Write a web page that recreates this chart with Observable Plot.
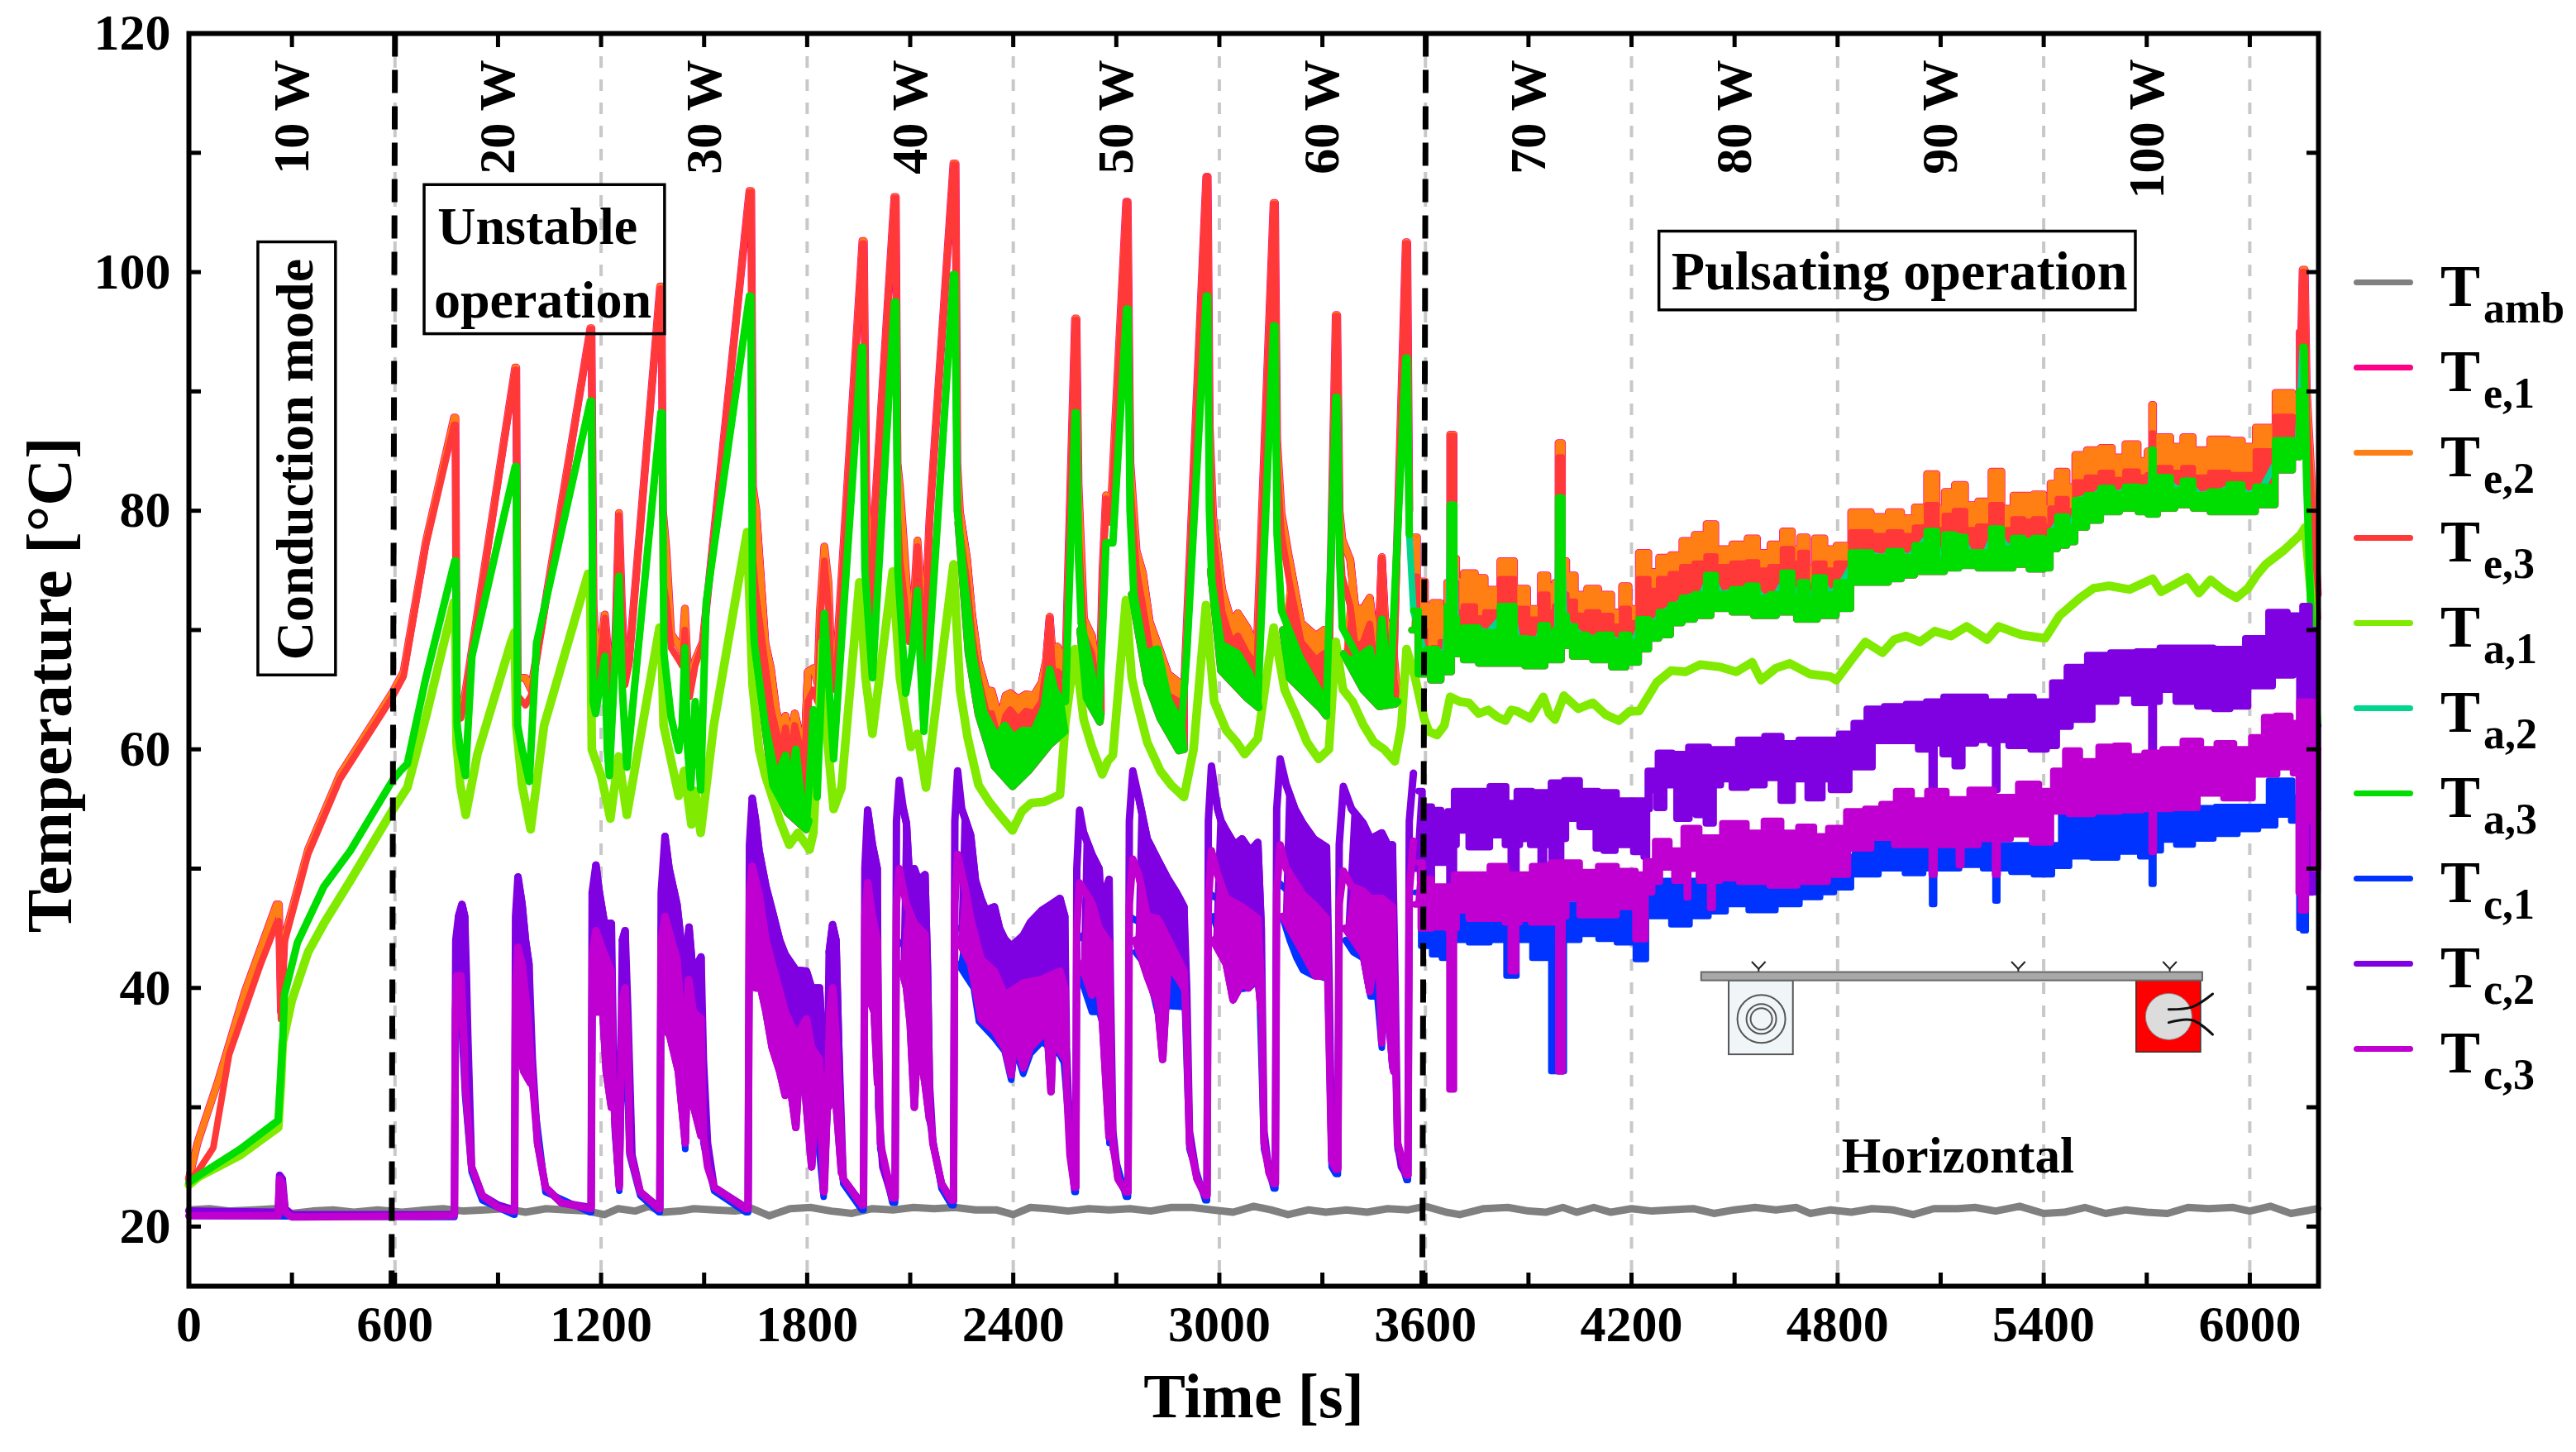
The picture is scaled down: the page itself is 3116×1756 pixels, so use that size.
<!DOCTYPE html>
<html><head><meta charset="utf-8">
<script src="https://cdn.jsdelivr.net/npm/d3@7"></script>
<script src="https://cdn.jsdelivr.net/npm/@observablehq/plot@0.6"></script>
<style>
html,body{margin:0;padding:0;background:#fff}
#wrap{position:relative;width:3116px;height:1756px;overflow:hidden;font-family:"Liberation Serif",serif;font-weight:bold;color:#000}
.sw{position:absolute;left:2847px;width:72px;height:7px;border-radius:4px}
.lb{position:absolute;left:2952px;font-size:72px;line-height:70px;white-space:nowrap}
.lb sub{font-size:52px;vertical-align:-20px;line-height:0;margin-left:4px}
</style></head><body><div id="wrap"><div id="chart"></div></div>
<script>
// ---------- readings from the picture: [time s, temperature °C] ----------
const tamb=[[0,21.4],[60,21.5],[120,21.3],[190,21.4],[250,21.5],[300,21.1],[360,21.3],[420,21.4],[480,21.2],[550,21.4],[620,21.2],[690,21.4],[740,21.5],[800,21.3],[860,21.4],[920,21.5],[980,21.2],[1040,21.5],[1100,21.4],[1160,21.3],[1210,21],[1250,21.5],[1300,21.3],[1340,21.7],[1380,21.2],[1430,21.3],[1470,21.5],[1530,21.4],[1590,21.3],[1640,21.5],[1690,20.9],[1750,21.5],[1810,21.6],[1870,21.3],[1930,21.1],[1990,21.5],[2050,21.4],[2110,21.6],[2170,21.5],[2230,21.6],[2290,21.4],[2350,21.4],[2400,21],[2450,21.6],[2500,21.5],[2560,21.3],[2620,21.5],[2680,21.4],[2740,21.5],[2800,21.3],[2860,21.6],[2920,21.6],[2980,21.4],[3040,21.2],[3100,21.7],[3150,21.4],[3200,21],[3260,21.4],[3310,21.2],[3370,21.4],[3430,21.2],[3490,21.5],[3550,21.4],[3600,21.7],[3660,21.2],[3700,21],[3770,21.5],[3840,21.6],[3900,21.3],[3950,21.2],[4000,21.6],[4040,21.2],[4090,21.6],[4140,21.2],[4200,21.5],[4260,21.3],[4310,21.4],[4380,21.5],[4440,21.1],[4500,21.4],[4560,21.6],[4620,21.4],[4680,21.6],[4720,21.1],[4780,21.4],[4840,21.2],[4900,21.5],[4960,21.4],[5020,21],[5080,21.5],[5150,21.5],[5200,21.6],[5260,21.3],[5330,21.7],[5400,21.1],[5460,21.2],[5520,21.6],[5580,21.1],[5640,21.4],[5700,21.2],[5760,21.1],[5820,21.6],[5880,21.5],[5950,21.6],[6000,21.3],[6060,21.7],[6120,21.1],[6198,21.5]];

const te2Top=[[0,24],[25,27],[86,32.3],[163,39.7],[255,47],[262,47],[268,38],[278,44.2],[347,51.6],[440,57.9],[593,64.8],[625,66.5],[690,77.4],[772,87.8],[776,87.8],[780,63],[792,63.6],[803,64.4],[950,92],[953,92],[957,66],[980,66],[996,65],[1169,95.3],[1172,95.3],[1178,72],[1190,66],[1200,69],[1211,71.3],[1222,67.5],[1232,63.5],[1243,70.3],[1252,79.8],[1260,72.5],[1270,66],[1281,67.3],[1372,98.8],[1376,98.8],[1380,80],[1390,76.8],[1404,69.7],[1426,68.7],[1436,68.2],[1444,71.8],[1452,67],[1458,65],[1474,67.5],[1496,69],[1632,106.8],[1637,106.8],[1642,82],[1651,80.2],[1678,68.9],[1694,66.8],[1710,63.2],[1725,61.8],[1737,62.8],[1748,60.5],[1764,63],[1780,61],[1791,59],[1802,66.5],[1818,66.8],[1830,65.5],[1837,71.5],[1850,77],[1862,74],[1870,67.5],[1882,66],[1961,102.6],[1965,102.6],[1972,82],[1979,77],[1988,70],[1995,79.2],[2054,106.3],[2058,106.3],[2063,84],[2070,82],[2097,70.9],[2106,70.5],[2114,74],[2121,77.5],[2130,74],[2140,68.9],[2156,79.2],[2226,109.1],[2232,109.1],[2237,84],[2245,79.8],[2265,76],[2280,71.3],[2298,67.4],[2322,64.9],[2337,64.9],[2360,62.4],[2378,64.5],[2391,64.7],[2414,64.2],[2437,64.6],[2460,64.5],[2483,65.6],[2496,67.5],[2506,71.1],[2515,67.5],[2529,68.6],[2552,67],[2580,96.1],[2584,96.1],[2590,82.2],[2606,70.9],[2629,69.5],[2644,66.3],[2654,68],[2660,75],[2670,81.3],[2685,80.5],[2729,105.9],[2733,105.9],[2741,84],[2759,76.6],[2777,74.8],[2797,70.7],[2823,68.6],[2851,66.3],[2882,65.6],[2897,65],[2962,108],[2966,108],[2972,87],[2982,79.4],[3008,73.4],[3035,70.7],[3054,71.4],[3081,70.2],[3109,68.5],[3158,105.8],[3162,105.8],[3168,86],[3181,79.8],[3204,75.9],[3238,70.6],[3281,69.5],[3304,70],[3319,67.5],[3339,96.4],[3343,96.4],[3350,80],[3358,77.6],[3381,75.9],[3396,71.8],[3419,71.8],[3438,72.7],[3453,69],[3465,70],[3473,76.1],[3482,71],[3493,69.8],[3508,68],[3543,102.5],[3547,102.5],[3553,80],[3565,77.8],[3588,74.1],[3611,72],[3630,72.3],[3657,71.8],[3668,74],[3674,86.4],[3680,86.4],[3686,76],[3695,74.1],[3726,74.8],[3764,74.4],[3783,73.4],[3851,75.8],[3867,73.5],[3927,71.8],[3943,74.6],[3969,73.7],[3984,74],[3989,85.7],[3994,85.7],[4003,75.8],[4019,74.6],[4053,73],[4087,73.5],[4121,73],[4163,71.5],[4180,73.7],[4205,71.8],[4236,76.5],[4264,74.9],[4295,76.1],[4332,76.3],[4362,77.5],[4404,78],[4431,78.9],[4459,76.8],[4526,77.2],[4548,77.7],[4585,76.5],[4622,77.2],[4658,78.3],[4678,76.8],[4703,77.8],[4720,75.2],[4746,77.7],[4779,76.8],[4813,77.1],[4864,79.9],[4931,79.5],[4965,79.9],[5007,79.4],[5041,80.3],[5078,83.1],[5100,80.2],[5122,81.6],[5159,82.2],[5185,80.5],[5232,80.8],[5262,83.3],[5294,80.2],[5328,81.3],[5354,81.3],[5387,81.4],[5413,80.2],[5425,82.3],[5455,83.3],[5480,82],[5502,84.7],[5548,85.1],[5583,85.3],[5616,84.5],[5658,85.6],[5691,84.2],[5712,85],[5717,88.9],[5722,85],[5746,86.2],[5793,85.4],[5818,86.2],[5852,85.1],[5916,86],[5961,85.9],[5995,85.4],[6038,87],[6110,89.9],[6139,89.6],[6150,95],[6154,100.2],[6160,100.2],[6166,90],[6183,81],[6198,73]];

const te1=te2Top; // Te,1 lies on Te,2 within the line width; only its fringe shows

const te3Top=[[0,23.8],[30,24.8],[71,26.6],[117,34.4],[209,42],[255,45.4],[262,45.6],[268,37.4],[278,43.8],[347,51.2],[440,57.5],[593,64.4],[625,66.1],[690,77.1],[772,87.2],[776,87.2],[780,62.6],[792,62.6],[803,64],[950,91.8],[953,91.8],[957,64.5],[980,63.7],[996,64.5],[1169,95.2],[1172,95.2],[1178,68],[1190,65],[1200,68],[1211,71],[1222,67],[1232,63],[1243,70],[1252,79.6],[1260,72],[1270,65.4],[1281,67],[1372,98.6],[1376,98.6],[1380,74],[1390,72.5],[1404,68.5],[1426,67.5],[1436,67],[1444,70],[1452,66],[1458,64.4],[1474,67],[1496,68.9],[1632,106.7],[1637,106.7],[1642,76],[1651,73],[1678,67],[1694,63.5],[1710,61.5],[1725,60],[1737,61.8],[1748,59],[1764,62],[1780,60],[1791,58.4],[1802,64],[1818,65],[1830,64],[1837,70],[1850,75.8],[1862,72],[1870,66],[1882,65],[1961,102.4],[1965,102.4],[1972,78],[1979,74],[1988,68],[1995,79],[2054,106.2],[2058,106.2],[2063,80],[2070,76],[2097,69],[2106,69],[2114,73],[2121,77],[2130,72],[2140,66],[2156,79],[2226,109],[2232,109],[2237,82],[2245,78],[2265,74],[2280,69.5],[2298,66],[2322,63],[2337,63],[2360,60.5],[2378,62.8],[2391,63.3],[2414,62.5],[2437,63.2],[2460,63],[2483,64],[2496,67],[2506,71],[2515,66],[2529,66.5],[2552,66],[2580,96],[2584,96],[2590,78],[2606,69.5],[2629,68],[2644,65],[2654,67],[2660,74],[2670,81],[2685,79],[2729,105.9],[2733,105.9],[2741,82],[2759,75],[2777,72],[2797,68.5],[2823,67],[2851,64.5],[2882,64],[2897,64],[2962,108],[2966,108],[2972,85],[2982,78],[3008,71.5],[3035,69],[3054,69.5],[3081,68],[3109,67],[3158,105.7],[3162,105.7],[3168,84],[3181,78],[3204,74],[3238,69],[3281,67.5],[3304,68],[3319,66.5],[3339,96.3],[3343,96.3],[3350,78],[3358,74.5],[3381,72],[3396,68.5],[3419,69],[3438,70.5],[3453,66.5],[3465,68],[3473,76],[3482,70],[3493,66],[3508,66],[3543,102.4],[3547,102.4],[3553,78],[3565,74.5],[3588,70],[3611,68],[3630,68.5],[3657,69],[3668,72],[3674,86.3],[3680,86.3],[3686,74],[3695,71.5],[3726,72],[3764,71],[3783,71.5],[3851,74.3],[3867,71.8],[3927,70.9],[3943,73],[3969,71.5],[3984,72],[3989,84.5],[3994,84.5],[4003,73],[4019,72.4],[4053,71.2],[4087,71.5],[4121,71.2],[4163,70.3],[4180,71.8],[4205,70.6],[4236,74.3],[4264,73.3],[4295,74.3],[4332,74.7],[4362,75.3],[4404,75.6],[4431,76.2],[4459,75.3],[4526,75.6],[4548,75.7],[4585,75],[4622,75.3],[4658,76.8],[4678,75.6],[4703,76.5],[4720,73.7],[4746,75.6],[4779,75],[4813,75.6],[4864,78.2],[4931,77.9],[4965,78.2],[5007,77.9],[5041,78.6],[5078,80.5],[5100,78.4],[5122,79.6],[5159,80],[5185,78.4],[5232,78.7],[5262,80.5],[5294,78.4],[5328,79.3],[5354,79.1],[5387,79.3],[5413,78.7],[5425,80.2],[5455,81],[5480,80],[5502,82.4],[5548,82.8],[5583,83.2],[5616,82.6],[5658,83.3],[5691,82.8],[5712,83],[5717,86.5],[5722,83],[5746,83.6],[5793,83.2],[5818,83.6],[5852,82.8],[5916,83.2],[5961,83],[5995,83],[6038,85],[6110,87.9],[6139,87.8],[6150,95],[6154,100],[6160,100],[6166,88],[6183,79.6],[6198,71]];

const ta1=[[0,23.5],[30,24.2],[150,26],[260,28.3],[268,32],[273,35.4],[300,39],[347,43],[393,45.4],[470,49],[593,54.9],[636,56.8],[690,62.7],[771,72.3],[775,72.3],[779,60.6],[790,57],[806,54.5],[840,59.6],[937,68.9],[948,69.8],[953,62],[970,57],[995,53.3],[1034,62],[1162,74.7],[1168,74.7],[1173,60],[1200,57.8],[1227,54.2],[1251,59.4],[1275,54.5],[1370,70.2],[1375,70],[1382,62],[1426,56.1],[1442,58.2],[1463,53.7],[1474,56.5],[1490,53],[1528,62],[1625,78.2],[1641,65.4],[1660,60],[1678,57.8],[1721,54],[1748,52],[1773,53],[1807,51.6],[1818,53],[1834,62],[1845,69],[1855,62],[1877,55],[1900,56.8],[1952,74],[1970,66],[1990,61.3],[2049,74.9],[2070,66],[2102,60.2],[2121,61.3],[2146,56.8],[2226,75.5],[2245,65],[2267,61],[2299,57],[2330,55.6],[2360,54.5],[2398,53.2],[2425,54.8],[2452,55.5],[2490,55.6],[2536,56.2],[2552,62.3],[2580,68.4],[2605,62.5],[2629,60.2],[2659,57.9],[2675,59],[2690,59.5],[2728,72.5],[2745,66],[2760,64],[2790,60.6],[2828,58.2],[2860,57],[2897,56],[2925,60],[2961,72.1],[2985,64],[3020,61.6],[3050,60.6],[3074,59.6],[3112,60.9],[3158,70.2],[3190,65],[3227,62.6],[3255,60.6],[3289,59.2],[3319,60],[3339,69],[3360,65],[3388,64],[3420,62],[3450,60.6],[3480,60],[3511,59],[3530,62],[3545,68.4],[3570,66],[3596,62.6],[3610,61.5],[3634,61.2],[3655,62],[3672,64.4],[3700,64],[3726,63.9],[3755,63],[3783,63.3],[3810,62.7],[3833,62.4],[3850,63.3],[3867,63.2],[3905,62.6],[3943,64.4],[3960,63],[3977,62.5],[4003,64.5],[4045,63.4],[4087,63.9],[4125,62.9],[4163,62.4],[4195,63.2],[4222,63.2],[4250,64.5],[4273,65.6],[4315,66.6],[4357,66.5],[4400,67.1],[4459,66.9],[4505,66.5],[4551,67.3],[4577,65.8],[4620,66.8],[4661,67.2],[4720,66.3],[4779,66.1],[4796,65.8],[4840,67.5],[4881,69],[4931,68.1],[4965,69.2],[4999,69.5],[5040,69],[5083,69.9],[5130,69.5],[5176,70.3],[5235,69.2],[5269,70.3],[5335,69.6],[5404,69.3],[5446,71.2],[5506,72.7],[5545,73.5],[5590,73.7],[5650,73.4],[5717,74.3],[5742,73.2],[5780,73.8],[5818,74.4],[5852,73.1],[5886,74.2],[5925,73.3],[5961,72.7],[5995,73.5],[6020,74.6],[6046,75.5],[6100,76.7],[6148,78],[6161,78.6],[6178,73],[6190,67]];

const ta3Top=[[0,23.7],[30,24.3],[150,26.5],[260,28.9],[268,33],[273,35.4],[278,39.4],[316,43.8],[393,48.5],[470,51.5],[593,57.4],[616,58.2],[636,58.8],[690,66],[774,75.8],[777,75.8],[781,62],[790,60],[805,57.8],[824,67.8],[950,83.7],[953,83.7],[957,62],[970,60],[991,57.3],[1012,68.9],[1169,89.2],[1172,89.2],[1177,64],[1184,63],[1195,65],[1211,67.8],[1218,60],[1224,57.8],[1238,66],[1252,74.5],[1262,65],[1275,58.5],[1374,88.2],[1378,88.2],[1383,68],[1404,62.7],[1426,59.9],[1436,62],[1444,68.5],[1452,60],[1461,56.8],[1474,64],[1490,56.6],[1506,72.3],[1632,98],[1636,98],[1641,72],[1646,68.9],[1678,62],[1710,57.5],[1737,59.5],[1748,56],[1767,60],[1782,56],[1797,53.3],[1808,58],[1818,63.3],[1829,56],[1840,64],[1850,71.4],[1862,66],[1877,59.2],[1888,64],[1958,93.7],[1962,93.7],[1968,75],[1990,66],[2054,97.5],[2058,97.5],[2064,75],[2087,64.7],[2105,68],[2121,73.3],[2130,67],[2140,61.5],[2226,99.8],[2230,99.8],[2237,80],[2260,73.4],[2283,67.7],[2314,63.1],[2352,61],[2375,62],[2400,61],[2429,61.6],[2460,61.5],[2490,63.5],[2506,66.7],[2520,65],[2536,64.2],[2552,64],[2580,88.2],[2584,88.2],[2590,76],[2598,70.6],[2629,66.3],[2649,62.8],[2660,70],[2670,77.3],[2690,77.3],[2730,96.9],[2734,96.9],[2740,80],[2751,73],[2782,68],[2820,68.4],[2851,64.2],[2890,62],[2905,68],[2962,98],[2966,98],[2971,80],[2978,74],[3005,68.8],[3054,68],[3089,66.3],[3112,64],[3158,95.5],[3162,95.5],[3168,78],[3181,71.6],[3235,67.7],[3312,63.8],[3339,89.5],[3343,89.5],[3350,76],[3358,70.2],[3404,67.7],[3438,68.4],[3458,65],[3473,70.9],[3496,64.2],[3543,92.8],[3547,92.8],[3553,78],[3565,71.6],[3596,68.2],[3611,68.4],[3657,68],[3668,72],[3674,80.5],[3680,80.5],[3688,71],[3695,69.8],[3726,70.2],[3783,69.8],[3851,72],[3867,69.3],[3927,69.2],[3943,70.4],[3969,69.3],[3984,70],[3989,81.1],[3994,81.1],[4003,71.2],[4019,70.3],[4053,69.6],[4087,69.3],[4121,69.6],[4163,69],[4180,69.6],[4205,69],[4236,70.9],[4264,70.6],[4295,71.5],[4332,72.1],[4362,72.7],[4404,73],[4431,74.6],[4459,73],[4526,73.4],[4548,73.7],[4585,72.7],[4622,73],[4658,74.8],[4678,72.7],[4703,74],[4720,72.4],[4746,74.4],[4779,73],[4813,74],[4864,76.5],[4931,76.1],[4965,76.6],[5007,76.1],[5041,77.1],[5078,78.3],[5100,75.8],[5122,78],[5159,77.8],[5185,76.5],[5232,76.5],[5262,78.5],[5294,76.8],[5328,77.7],[5354,77.4],[5387,77.7],[5413,76.5],[5425,78.3],[5455,79.5],[5480,78.6],[5502,80.9],[5548,81.3],[5583,81.9],[5616,81.4],[5658,82],[5691,81.9],[5712,82],[5717,85.1],[5722,82],[5746,82.8],[5793,81.7],[5818,82.5],[5852,81.3],[5916,81.6],[5961,82.2],[5995,81.3],[6038,82],[6110,85.9],[6139,85.1],[6148,90],[6154,93.7],[6158,93.7],[6165,83],[6175,74],[6183,68],[6198,62]];

const ta2=ta3Top; // Ta,2 is entirely covered by Ta,3 in the picture

// lower edges of the thick noisy parts of the hot traces
const ta3Low=[
 [[1650,68],[1700,57],[1743,54.7],[1797,53.3],[1805,54]],
 [[2240,79],[2270,68],[2299,62.9],[2345,58.6],[2398,56.9],[2444,58.2],[2506,60.4],[2550,61.5]],
 [[2595,70],[2613,64.3],[2652,62.3],[2655,63]],
 [[2745,73],[2790,65.6],[2828,62.6],[2882,59.9],[2897,60]],
 [[2975,75],[3005,66.6],[3081,64.3],[3115,63.5]],
 [[3185,70],[3204,66],[3296,63.4],[3312,62.8]],
 [[3362,68],[3419,65],[3465,63.6],[3511,63.8],[3520,64]],
 [[3560,70],[3596,66.3],[3634,65.8],[3657,66.5],[3695,68],[3726,67.5],[3783,67.2],[3851,67.2],[3927,67],[3969,67.5],[3989,67.5],[4003,68.7],[4053,67.8],[4121,67.5],[4163,66.9],[4205,67.3],[4236,68.4],[4264,69.3],[4295,69.6],[4332,70.6],[4362,70.9],[4404,71.2],[4459,71.8],[4526,71.5],[4585,71.2],[4658,71.5],[4703,70.9],[4779,71.2],[4813,71.8],[4864,74],[4931,74],[4965,74.3],[5007,74.6],[5041,74.9],[5100,74.9],[5122,75.2],[5185,75.4],[5232,75.2],[5294,75.2],[5328,75.5],[5387,75.1],[5413,75.2],[5425,76.8],[5455,77.1],[5480,77.4],[5502,78.6],[5548,79.2],[5583,79.9],[5658,80.2],[5691,79.9],[5717,79.7],[5746,80.2],[5818,80.5],[5852,80.2],[5916,79.9],[5995,79.9],[6038,80.5],[6110,83.4],[6139,84.5],[6150,88]]
];

const tc2Top=[[0,21.3],[260,21.2],[264,24.3],[272,24],[280,21.5],[300,21],[600,21],[770,21],[773,21],[777,44],[785,46],[795,47],[803,46],[808,41],[812,36],[823,25],[854,22.6],[900,21.8],[945,21.4],[948,21.4],[951,46],[958,49.3],[970,47],[980,44],[990,42],[1000,34],[1015,27],[1038,23.3],[1084,22],[1168,21.6],[1171,21.6],[1174,48],[1185,50.3],[1195,48],[1210,45.4],[1230,45.4],[1234,38],[1240,29],[1253,23.5],[1256,30],[1262,44],[1270,44.8],[1278,38],[1290,26],[1314,22.9],[1368,21.6],[1371,21.6],[1375,48],[1386,52.7],[1398,50],[1421,47],[1440,42],[1450,43],[1456,45.1],[1468,41],[1480,42],[1491,42.6],[1498,34],[1510,27],[1529,23.3],[1621,21.6],[1628,21.6],[1632,52],[1640,55.9],[1650,54],[1660,51.5],[1680,48.5],[1698,46.5],[1720,44],[1736,42.8],[1767,41.5],[1798,41.4],[1813,40],[1836,40],[1845,35],[1850,24],[1858,30],[1864,43],[1874,45.3],[1884,44],[1892,35],[1905,24],[1959,21.9],[1964,21.9],[1968,50],[1976,54.9],[1990,52],[2004,50],[2008,30],[2020,25],[2048,22.4],[2056,22.4],[2060,54],[2068,57.4],[2080,55],[2089,53.8],[2100,48],[2112,50],[2124,49],[2143,49.5],[2150,42],[2156,32],[2166,27],[2191,23.6],[2220,22.2],[2226,22.2],[2230,54],[2238,58.2],[2250,55],[2262,54],[2276,52.8],[2290,49],[2306,47.5],[2320,46.5],[2345,46.8],[2360,45],[2375,44.1],[2395,43.5],[2429,44.4],[2450,45.5],[2483,46.5],[2510,47],[2536,47.5],[2550,46],[2555,35],[2565,27],[2578,23.3],[2582,23.3],[2585,50],[2593,54.9],[2605,53],[2629,51.2],[2650,50],[2655,47],[2679,49.1],[2683,40],[2690,28],[2705,24],[2728,22.9],[2734,22.9],[2738,54],[2748,58.2],[2765,56],[2790,52.5],[2820,50.8],[2851,49.1],[2875,48],[2897,46.8],[2905,40],[2913,28],[2935,24],[2959,22.6],[2964,22.6],[2968,54],[2977,58.6],[2995,55],[3005,54],[3020,53.2],[3045,52],[3066,52.5],[3090,51.5],[3112,52.2],[3122,45],[3130,28],[3145,24.5],[3158,23.6],[3163,23.6],[3167,55],[3177,59.2],[3195,57],[3220,55],[3243,53.8],[3275,52.5],[3312,51.8],[3320,40],[3327,26],[3339,25],[3345,25],[3349,52],[3361,56.9],[3385,55],[3419,53.8],[3440,52.5],[3473,53],[3490,52],[3504,52],[3512,40],[3519,27],[3530,25],[3545,24.3],[3549,24.3],[3553,54],[3565,58],[3580,56.5],[3603,55.2],[3634,54.9],[3657,54.5],[3672,54.8],[3695,56.5],[3757,56.5],[3818,56.9],[3852,55.5],[3880,56.5],[3941,56.4],[3990,57.2],[4018,57.4],[4080,56.5],[4126,56.4],[4187,55.7],[4239,55.7],[4256,58.2],[4298,59.7],[4340,59.6],[4391,60.2],[4459,60],[4563,60.8],[4611,61.1],[4661,60.5],[4712,60.8],[4779,60.8],[4830,61.3],[4864,62.2],[4906,63.4],[4965,63.6],[5033,63.8],[5083,64],[5134,64.4],[5193,64.4],[5269,64],[5337,64.4],[5404,64],[5446,65.6],[5489,66.9],[5565,67.9],[5624,68.1],[5717,68.2],[5759,68.5],[5843,68.5],[5945,68.4],[6029,69.3],[6080,71.5],[6139,71.2],[6168,72],[6180,70],[6198,62]];

const tc3Top=[[0,20.9],[260,20.9],[264,24],[272,23.5],[280,21.2],[300,20.8],[770,20.9],[773,21],[776,38],[780,41],[792,41],[800,36],[804,32],[823,25],[854,22.6],[900,21.6],[945,21.3],[948,21.3],[951,40],[958,43.4],[970,42],[985,38],[1000,32.3],[1015,27],[1038,23.3],[1084,22],[1168,21.5],[1171,21.5],[1175,43],[1185,44.8],[1207,43],[1230,41.4],[1234,33],[1240,29],[1253,23.3],[1256,30],[1262,39],[1270,40],[1278,35],[1283,26.3],[1314,22.9],[1368,21.5],[1371,21.5],[1375,44],[1386,46],[1405,44],[1421,42.4],[1432,38],[1445,27],[1450,38],[1455,40.7],[1468,38],[1491,37.4],[1498,27.6],[1510,25],[1529,23.3],[1621,21.5],[1628,21.5],[1632,48],[1640,50.2],[1660,47.8],[1680,44],[1698,42],[1736,38],[1767,36],[1780,36.5],[1798,37.4],[1813,35],[1836,34],[1845,28],[1850,23],[1858,30],[1866,38],[1874,40],[1884,36],[1905,24],[1959,21.8],[1964,21.8],[1968,46],[1976,48.8],[1990,46],[2004,44],[2013,27],[2048,22.4],[2056,22.4],[2060,47],[2068,50],[2089,47],[2112,45.4],[2143,44.5],[2150,38],[2156,30],[2166,27],[2191,23.6],[2220,22.2],[2226,22.2],[2230,47],[2238,51.2],[2255,49],[2276,45.8],[2306,42.4],[2345,41.4],[2375,39.4],[2429,40.4],[2483,40.7],[2536,41.4],[2550,40],[2555,32],[2565,26],[2578,23.3],[2582,23.3],[2585,45],[2593,48.8],[2610,48],[2629,47.1],[2650,45],[2679,43.8],[2683,35],[2690,27],[2705,24],[2728,22.9],[2734,22.9],[2738,47],[2748,50.8],[2765,49.5],[2790,46],[2820,45.8],[2851,44.1],[2897,41.4],[2905,36],[2913,27],[2935,24],[2959,22.6],[2964,22.6],[2968,47],[2977,51.5],[2995,49.5],[3020,47.5],[3066,46.8],[3112,45.8],[3122,40],[3130,27],[3145,24.5],[3158,23.6],[3163,23.6],[3167,48],[3177,52],[3195,50],[3243,47.8],[3275,47],[3312,45.8],[3320,35],[3327,25.5],[3339,24.8],[3345,24.8],[3349,47],[3361,49.8],[3385,48.5],[3419,48.1],[3440,47.5],[3473,47.5],[3504,46.8],[3512,36],[3519,27],[3545,24.3],[3549,24.3],[3553,48],[3565,52.3],[3580,50.5],[3603,49.1],[3634,48.5],[3672,48.5],[3695,49.5],[3757,49.5],[3818,50.2],[3852,49.5],[3880,49.5],[3941,50.2],[3990,50.5],[4018,50.5],[4080,49.7],[4126,50.2],[4187,49.8],[4236,49.5],[4248,50.6],[4290,52.3],[4330,51.5],[4374,53.4],[4420,52.6],[4509,53.8],[4560,53],[4611,54],[4660,53],[4712,53.5],[4750,52.7],[4796,53.4],[4855,54.8],[4906,55],[4950,55.4],[4991,56.5],[5040,55.7],[5083,56.5],[5150,55.8],[5219,56.6],[5290,56],[5362,57.1],[5410,56.5],[5446,58.2],[5480,59.9],[5530,59],[5590,60.2],[5624,60.3],[5670,59.4],[5717,59.7],[5775,60],[5835,60.7],[5880,60],[5928,60.5],[5980,60],[6029,61],[6055,62.7],[6097,62.8],[6139,62.2],[6150,64],[6168,64],[6198,60]];

// lower edges of the filled spike columns (shared by Tc,2 and Tc,3)
const tcSpikeLow=[
 [[778,38],[795,38],[803,34]],
 [[952,36],[975,33],[995,32]],
 [[1177,38],[1205,38],[1215,33],[1230,30]],
 [[1259,34],[1275,33]],
 [[1378,37],[1400,36],[1425,33],[1445,27],[1451,33],[1470,30],[1491,27.6]],
 [[1635,42],[1650,40],[1665,40],[1680,38],[1698,35],[1720,33],[1736,31],[1745,33],[1767,28.3],[1775,32],[1790,33],[1798,30],[1813,25],[1825,30],[1836,31],[1848,22.9]],
 [[1862,30],[1874,32],[1885,30],[1900,24.5]],
 [[1970,40],[1995,38],[2005,32]],
 [[2072,42],[2089,40],[2100,37],[2112,30],[2122,36],[2143,32],[2156,29]],
 [[2240,44],[2276,42],[2306,37.4],[2345,36.4],[2375,35],[2394,32.7],[2405,36],[2429,33.3],[2450,35],[2483,36],[2500,36],[2510,31.3],[2516,36],[2536,34.7],[2552,34]],
 [[2597,42],[2629,39.4],[2650,40],[2660,37],[2679,27.5]],
 [[2756,44],[2790,41],[2820,38.7],[2835,34],[2851,42],[2875,41],[2897,40]],
 [[2982,44],[3020,42],[3040,39],[3066,40.4],[3085,40],[3112,41],[3122,38]],
 [[3185,46],[3243,43],[3280,41],[3312,41]],
 [[3367,45],[3419,42.8],[3438,39.7],[3450,42],[3465,42],[3473,35.4],[3480,42],[3504,33.7],[3508,33]]
];
const tc2Pulse=[[3566,50],[3603,49],[3634,50.5],[3657,50.5],[3668,50.5],[3672,44.4],[3680,44.4],[3686,52],[3695,53.2],[3757,51.8],[3818,52.8],[3845,52],[3852,49.8],[3860,49.8],[3870,52],[3880,52.5],[3930,52],[3941,50.5],[3950,52],[3985,50.5],[3990,50.5],[4000,52.5],[4018,54.2],[4080,53.5],[4112,51.7],[4126,51.5],[4180,52],[4231,51.4],[4240,51],[4250,55],[4256,56.6],[4290,55.1],[4300,57],[4362,54.2],[4375,56],[4400,54.5],[4433,53.8],[4445,57],[4475,57.5],[4509,56.8],[4563,57],[4611,57.6],[4658,55.7],[4680,57.5],[4746,55.9],[4765,57.5],[4796,56.6],[4872,58.5],[4931,60.7],[4999,60.7],[5070,60],[5078,56.6],[5086,60.5],[5126,59.6],[5156,58.6],[5170,60.5],[5235,60.8],[5255,60.5],[5262,56.6],[5268,60.8],[5328,60.3],[5396,60],[5421,60.3],[5455,61.9],[5501,62.5],[5582,64],[5640,64.7],[5688,63.9],[5710,64],[5717,59.7],[5724,64],[5751,65],[5818,64],[5877,63.6],[5916,63.4],[5970,63.6],[6020,65.3],[6113,66.2],[6139,68.4],[6150,52],[6168,48],[6198,55]];
const tc3Pulse=[[3570,47],[3603,45],[3634,45.1],[3657,45.1],[3668,45],[3672,31.5],[3680,31.5],[3686,45],[3695,46.5],[3757,45.8],[3818,45.8],[3845,45.5],[3852,41.4],[3860,41.4],[3868,45.5],[3880,45.8],[3935,45.5],[3941,45.5],[3984,45.5],[3990,33],[3996,33],[4002,46],[4018,47.5],[4080,46.1],[4126,46.1],[4187,46.8],[4236,44.1],[4245,48],[4275,48.9],[4290,50.1],[4360,49],[4362,47.6],[4368,50],[4425,49],[4433,46.7],[4440,49],[4475,49.2],[4551,48.9],[4653,48.6],[4712,48.9],[4746,48.9],[4796,49.5],[4864,51.7],[4931,52.6],[4999,52],[5070,52],[5078,49.5],[5086,52],[5150,52],[5156,50.3],[5165,52],[5255,52.5],[5262,49.5],[5270,52.5],[5337,52.9],[5396,52.2],[5446,54.8],[5501,54.6],[5585,54.8],[5658,54.9],[5712,55],[5717,51.4],[5724,55],[5818,55.1],[5877,56.3],[5970,55.9],[6046,57.9],[6113,58.5],[6139,58],[6146,48],[6152,46.5],[6160,46.5],[6166,55],[6175,54],[6198,50]];

const tc1Top=[[0,20.9],[770,20.8],[773,20.8],[776,38],[792,38],[804,31],[823,24.6],[854,22.2],[945,21],[948,21],[951,38],[970,39],[1000,31.8],[1038,22.9],[1168,21.2],[1171,21.2],[1175,40],[1230,39],[1240,28],[1253,23],[1258,30],[1270,38],[1283,26],[1314,22.6],[1368,21.2],[1371,21.2],[1375,42],[1421,40],[1445,26.5],[1455,38],[1491,36],[1498,27],[1529,23],[1621,21.2],[1628,21.2],[1632,44],[1698,40],[1767,34],[1813,33],[1848,22.5],[1858,29],[1874,38],[1905,23.6],[1959,21.4],[1964,21.4],[1968,44],[2004,42],[2013,26.5],[2048,22],[2056,22],[2060,44],[2112,43],[2156,29],[2191,23.2],[2220,21.8],[2226,21.8],[2230,45],[2255,45],[2276,43],[2306,40],[2429,38],[2536,38],[2555,31],[2578,22.9],[2582,22.9],[2585,44],[2629,45],[2679,41],[2690,26.5],[2728,22.5],[2734,22.5],[2738,46],[2851,44],[2897,41],[2913,26.5],[2959,22.2],[2964,22.2],[2968,48],[3112,45],[3130,26.5],[3158,23.2],[3163,23.2],[3167,49],[3312,45],[3327,25],[3339,24.4],[3345,24.4],[3349,45],[3504,45],[3519,26.5],[3545,23.9],[3549,23.9],[3553,48],[3634,47],[3990,47],[4250,48],[4290,49],[4500,49.5],[4800,51],[4900,52.5],[5100,52.8],[5400,52],[5500,54.5],[5800,55.1],[6000,55.2],[6110,57.4],[6139,56],[6198,55]];
const tc1Low=[
 [[2240,42],[2262,41],[2285,40],[2300,37.2],[2345,35.8],[2375,34.7],[2394,32.3],[2405,35],[2429,32.8],[2450,34.5],[2483,35.5],[2536,34.4],[2552,33.5]],
 [[2597,40.8],[2629,38],[2650,38],[2672,36],[2680,27]],
 [[2756,43],[2790,41.7],[2820,38],[2832,38],[2850,38.5],[2897,38.4]],
 [[2982,46],[3005,44],[3020,42],[3040,40],[3060,39.9],[3085,40],[3112,40.6]],
 [[3183,46],[3205,44],[3225,42.5],[3243,41.5],[3275,41],[3289,41],[3312,40.8]],
 [[3367,44],[3390,43],[3419,42.5],[3440,39.3],[3460,39.3],[3473,35],[3485,41],[3504,33.3]],
 [[3570,48],[3603,43.5],[3634,42.8],[3660,42.5],[3695,44],[3757,43.8],[3818,44],[3852,41],[3880,44],[3941,42.5],[3990,33],[4018,44],[4080,44.5],[4126,44.1],[4187,43.8],[4236,42.4],[4250,46],[4290,46],[4340,45.3],[4400,46],[4450,46.4],[4500,47],[4580,46.5],[4660,47],[4720,47.6],[4780,48],[4800,48.4],[4880,49.5],[4960,50],[5030,49.6],[5070,50],[5078,47],[5086,50],[5120,50],[5190,50.3],[5255,50],[5262,47.3],[5270,50],[5340,49.7],[5400,49.5],[5450,50.2],[5500,51],[5580,50.9],[5650,51.4],[5710,51],[5717,48.7],[5724,51.5],[5760,52.4],[5810,52],[5860,52.5],[5930,52.9],[6000,53.3],[6050,53.6],[6100,54.5],[6139,54],[6148,45],[6160,44.8],[6168,53],[6198,48]]
];

// axes and annotations
const yTicks=[20,30,40,50,60,70,80,90,100,110,120];
const xTicks=[0,300,600,900,1200,1500,1800,2100,2400,2700,3000,3300,3600,3900,4200,4500,4800,5100,5400,5700,6000];
const labelTimes=[0,600,1200,1800,2400,3000,3600,4200,4800,5400,6000];
const gridTimes=[600,1200,1800,2400,3000,3600,4200,4800,5400,6000];
const modeBounds=[{x1:600,x2:590},{x1:3601,x2:3591}];
const powerLabels=["10 W","20 W","30 W","40 W","50 W","60 W","70 W","80 W","90 W","100 W"];
const powerTimes=[300,900,1500,2100,2700,3300,3900,4500,5100,5700];
const powerTemps=[113,113,113,113,113,113,113,113,113,112];
const boxes=[{x1:202,x2:428,y1:66.2,y2:102.5},{x1:686,x2:1386,y1:94.8,y2:107.3},{x1:4281,x2:5668,y1:96.8,y2:103.4}];
const notes=[{t:"Unstable",x:1015,y:103.8,s:64},{t:"operation",x:1030,y:97.6,s:64},{t:"Pulsating operation",x:4980,y:100,s:66},{t:"Horizontal",x:5150,y:25.9,s:61}];
const legendNames=[["T","amb"],["T","e,1"],["T","e,2"],["T","e,3"],["T","a,1"],["T","a,2"],["T","a,3"],["T","c,1"],["T","c,2"],["T","c,3"]];
const legendColors=["#808080","#ff0088","#ff7f14","#ff3838","#80ea00","#00d68c","#00dd00","#0033ff","#7f00e0","#c000d0"];
// heat-pipe sketch
const sketchBar=[{x1:4404,x2:5863,y1:40.6,y2:41.3}];
const condBox=[{x1:4484,x2:4671,y1:34.4,y2:40.6}];
const evapBox=[{x1:5670,x2:5858,y1:34.6,y2:40.6}];
const sketchRings=[29,18,13];
const wires=[[[5764,38.2],[5832,38.4],[5892,39.5]],[[5764,37.1],[5832,37.3],[5892,36.1]]];
const sensorTimes=[4570,5326,5767];

const X=d=>d[0],Y=d=>d[1];
function trace(top,lows,color,sw){
  const longs=lows.filter(p=>p[p.length-1][0]-p[0][0]>1000);
  const m=[];
  if(longs.length){
    const a=longs[0][0][0],b=longs[0][longs[0].length-1][0];
    m.push(Plot.line(top.filter(d=>d[0]<=a),{x:X,y:Y,stroke:color,strokeWidth:sw,strokeLinejoin:"round",strokeLinecap:"round"}));
    m.push(Plot.line(top.filter(d=>d[0]>=b),{x:X,y:Y,stroke:color,strokeWidth:sw,strokeLinejoin:"round",strokeLinecap:"round"}));
  } else m.push(Plot.line(top,{x:X,y:Y,stroke:color,strokeWidth:sw,strokeLinejoin:"round",strokeLinecap:"round"}));
  for(const p of lows){
    const a=p[0][0],b=p[p.length-1][0],long=b-a>1000;
    const poly=[...top.filter(d=>d[0]>=a&&d[0]<=b),...[...p].reverse()];
    m.push(Plot.line(poly,{x:X,y:Y,stroke:color,fill:color,strokeWidth:long?sw-1:sw,strokeLinejoin:"round",curve:long?"step":"linear"}));
  }
  return m;
}
const c=legendColors, sw=8;
const plot=Plot.plot({
  width:3116,height:1756,marginLeft:228,marginRight:312,marginTop:40,marginBottom:201,
  x:{domain:[0,6200]},y:{domain:[15,120]},
  style:{fontFamily:"'Liberation Serif',serif",fontWeight:"bold",background:"#fff",color:"#000"},
  marks:[
    Plot.ruleX(gridTimes,{stroke:"#c8c8c8",strokeWidth:4,strokeDasharray:"14 14"}),
    Plot.line(tamb,{x:X,y:Y,stroke:c[0],strokeWidth:9,strokeLinejoin:"round"}),
    ...trace(te1,ta3Low,c[1],sw+1.5),
    ...trace(te2Top,ta3Low,c[2],sw),
    ...trace(te3Top,ta3Low,c[3],sw),
    Plot.line(ta1,{x:X,y:Y,stroke:c[4],strokeWidth:10.5,strokeLinejoin:"round"}),
    Plot.line(ta2,{x:X,y:Y,stroke:c[5],strokeWidth:sw,strokeLinejoin:"round"}),
    ...trace(ta3Top,ta3Low,c[6],sw+1),
    ...trace(tc1Top,tc1Low,c[7],sw),
    ...trace(tc2Top,[...tcSpikeLow,tc2Pulse],c[8],sw+1),
    ...trace(tc3Top,[...tcSpikeLow,tc3Pulse],c[9],sw+1),
    Plot.link(modeBounds,{x1:"x1",x2:"x2",y1:()=>120,y2:()=>15,stroke:"#000",strokeWidth:7,strokeDasharray:"28 16"}),
    // sketch
    ...sensorTimes.flatMap(t=>[
      Plot.link([{a:t-20,b:t}],{x1:"a",x2:"b",y1:()=>42.2,y2:()=>41.6,stroke:"#222",strokeWidth:2}),
      Plot.link([{a:t+20,b:t}],{x1:"a",x2:"b",y1:()=>42.2,y2:()=>41.6,stroke:"#222",strokeWidth:2}),
      Plot.link([{a:t,b:t}],{x1:"a",x2:"b",y1:()=>41.6,y2:()=>41,stroke:"#222",strokeWidth:2})]),
    Plot.rect(condBox,{x1:"x1",x2:"x2",y1:"y1",y2:"y2",fill:"#f0f5f7",stroke:"#555",strokeWidth:2}),
    ...sketchRings.map(r=>Plot.dot([[4578,37.4]],{x:X,y:Y,r,fill:"none",stroke:"#555",strokeWidth:2})),
    Plot.rect(evapBox,{x1:"x1",x2:"x2",y1:"y1",y2:"y2",fill:"#ff0000",stroke:"#333",strokeWidth:1.5}),
    Plot.dot([[5764,37.6]],{x:X,y:Y,r:28,fill:"#dcdcdc",stroke:"#888",strokeWidth:1}),
    ...wires.map(w=>Plot.line(w,{x:X,y:Y,stroke:"#111",strokeWidth:3,curve:"catmull-rom"})),
    Plot.rect(sketchBar,{x1:"x1",x2:"x2",y1:"y1",y2:"y2",fill:"#a8a8a8",stroke:"#666",strokeWidth:2}),
    // annotations
    Plot.rect(boxes,{x1:"x1",x2:"x2",y1:"y1",y2:"y2",fill:"none",stroke:"#000",strokeWidth:3.5}),
    Plot.text(powerLabels,{x:(d,i)=>powerTimes[i],y:(d,i)=>powerTemps[i],text:d=>d,rotate:-90,fontSize:62,fill:"#000"}),
    Plot.text(["Conduction mode"],{x:()=>310,y:()=>84.3,text:d=>d,rotate:-90,fontSize:64,fill:"#000"}),
    Plot.text(notes,{x:"x",y:"y",text:"t",fontSize:"s",fill:"#000"}),
    // frame and axes
    Plot.axisY(yTicks,{anchor:"left",tickSize:-15,strokeWidth:5,fill:"none",label:null}),
    Plot.axisY(yTicks,{anchor:"right",tickSize:-15,strokeWidth:5,fill:"none",label:null}),
    Plot.axisX(xTicks,{anchor:"bottom",tickSize:-16,strokeWidth:5,fill:"none",label:null}),
    Plot.axisX(xTicks,{anchor:"top",tickSize:-16,strokeWidth:5,fill:"none",label:null}),
    Plot.axisY(yTicks.filter(d=>d%20===0),{anchor:"left",tickSize:0,tickPadding:22,fontSize:62,label:null,fill:"#000",tickFormat:d=>String(d)}),
    Plot.axisX(labelTimes,{anchor:"bottom",tickSize:0,tickPadding:22,fontSize:62,label:null,fill:"#000",tickFormat:d=>String(d)}),
    Plot.text(["Temperature [°C]"],{frameAnchor:"left",y:()=>65.4,dx:-168,rotate:-90,textAnchor:"middle",text:d=>d,fontSize:79,fill:"#000"}),
    Plot.text(["Time [s]"],{frameAnchor:"bottom",dy:158,text:d=>d,fontSize:76,fill:"#000"}),
    Plot.frame({stroke:"#000",strokeWidth:6})
  ]
});
document.getElementById("chart").appendChild(plot);
const wrap=document.getElementById("wrap");
legendNames.forEach(([a,b],i)=>{
  const y=341+i*103;
  const s=document.createElement("div");s.className="sw";s.style.top=(y-3.5)+"px";s.style.background=legendColors[i];wrap.appendChild(s);
  const l=document.createElement("div");l.className="lb";l.style.top=(y-30)+"px";
  l.innerHTML=a+"<sub>"+b+"</sub>";wrap.appendChild(l);
});
</script></body></html>
